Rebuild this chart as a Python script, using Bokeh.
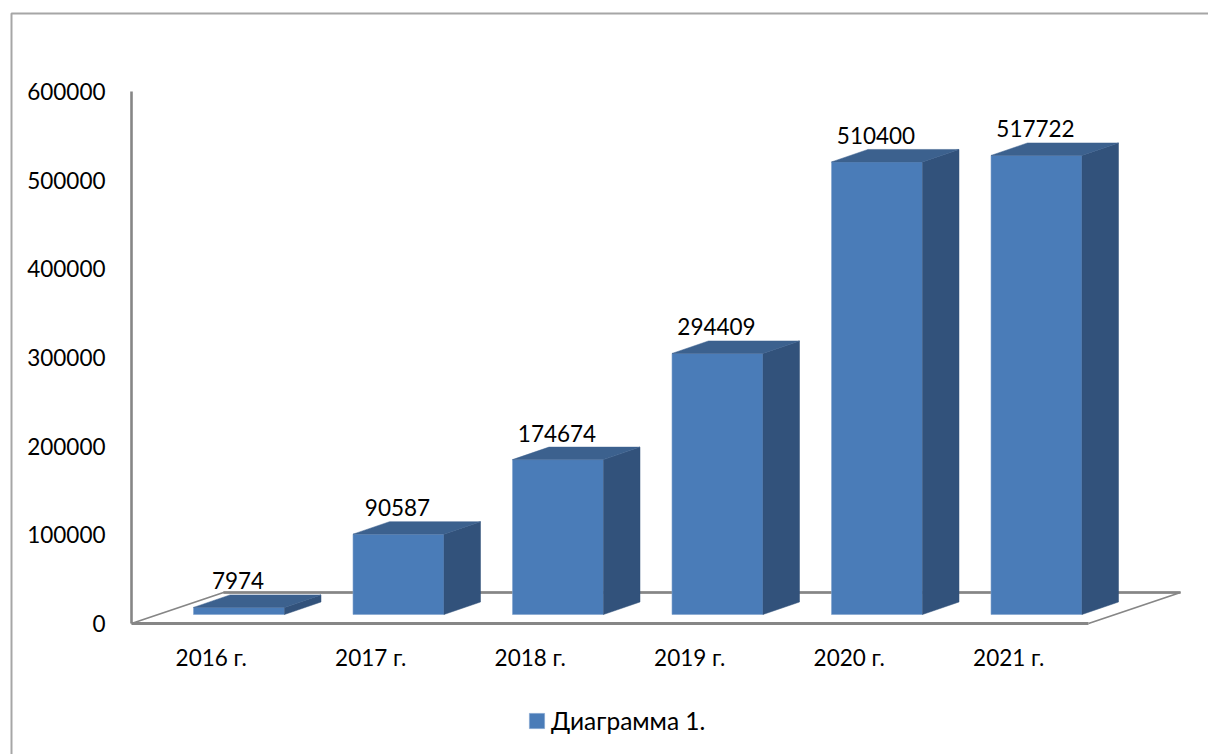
from bokeh.embed import file_html
from bokeh.models import FixedTicker, Legend, LegendItem, LinearAxis, Range1d
from bokeh.plotting import figure
from bokeh.resources import INLINE
from bokeh.core.properties import value

categories = ["2016 г.", "2017 г.", "2018 г.", "2019 г.", "2020 г.", "2021 г."]
values = [7974, 90587, 174674, 294409, 510400, 517722]
y_ticks = [0, 100000, 200000, 300000, 400000, 500000, 600000]
series_name = "Диаграмма 1."

WIDTH, HEIGHT = 1208, 754
FONT = "Lato"
FONT_SIZE = "22.5px"
LEGEND_FONT_SIZE = "24.5px"
AXIS_COLOR = "#868686"
FRAME_COLOR = "#a6a6a6"
FRONT, SIDE, TOP = "#4a7cb8", "#32527b", "#3c618e"

# Pixel geometry of the 3D plot box
X0, X6 = 131, 1088
Y0, Y600 = 623, 91
PX_X = (X6 - X0) / len(categories)
PX_Y = (Y0 - Y600) / 600000

def dx(px):
    return px / PX_X

def dy(px):
    return px / PX_Y

def sx(px):
    return (px - X0) / PX_X

def sy(px):
    return (Y0 - px) / PX_Y

p = figure(
    width=WIDTH, height=HEIGHT, output_backend="svg", toolbar_location=None,
    x_range=Range1d(sx(0), sx(WIDTH)), y_range=Range1d(sy(HEIGHT), sy(0)),
    min_border=0, x_axis_type=None, y_axis_type=None,
    outline_line_color=None, background_fill_color="white",
)
p.grid.visible = False

# Outer chart border: only the top and left edges fall inside the page
p.line([sx(WIDTH), sx(11), sx(11)], [sy(13), sy(13), sy(HEIGHT)],
       line_color=FRAME_COLOR, line_width=2)

# Floor of the 3D box
floor_dx, floor_dy = dx(92), dy(31)
p.line([0, floor_dx, len(categories) + floor_dx, len(categories)],
       [0, floor_dy, floor_dy, 0], line_color=AXIS_COLOR, line_width=1.8)
p.line([floor_dx, len(categories) + floor_dx], [floor_dy, floor_dy],
       line_color=AXIS_COLOR, line_width=2.6)

# Bars: front, side and top faces derived from the values
base = dy(9)
half = dx(45.5)
shift = dx(27.75)
depth_x, depth_y = dx(36.5), dy(12.5)

front_xs, front_ys, side_xs, side_ys, top_xs, top_ys = [], [], [], [], [], []
label_x, label_y = [], []
for i, v in enumerate(values):
    c = i + 0.5 + shift
    l, r, b, t = c - half, c + half, base, base + v
    front_xs.append([l, r, r, l])
    front_ys.append([b, b, t, t])
    side_xs.append([r, r + depth_x, r + depth_x, r])
    side_ys.append([b, b + depth_y, t + depth_y, t])
    top_xs.append([l, r, r + depth_x, l + depth_x])
    top_ys.append([t, t, t + depth_y, t + depth_y])
    label_x.append(c)
    label_y.append(t + depth_y)

front = p.patches(front_xs, front_ys, fill_color=FRONT, line_color="#7fa3cf", line_width=0.6)
p.patches(side_xs, side_ys, fill_color=SIDE, line_color=SIDE, line_width=0.5)
p.patches(top_xs, top_ys, fill_color=TOP, line_color=TOP, line_width=0.5)

p.text(label_x, label_y, text=[str(v) for v in values], text_align="center",
       text_baseline="alphabetic", x_offset=-1, y_offset=-14, text_font=value(FONT),
       text_font_size=FONT_SIZE, text_color="black")

# Axes pinned to the front edge of the floor
y_axis = LinearAxis(fixed_location=0, bounds=(0, 600000),
                    ticker=FixedTicker(ticks=y_ticks))
y_axis.axis_line_color = AXIS_COLOR
y_axis.axis_line_width = 2.6
y_axis.major_tick_line_color = None
y_axis.minor_tick_line_color = None
y_axis.major_label_standoff = 20
y_axis.major_label_text_font = FONT
y_axis.major_label_text_font_size = FONT_SIZE
y_axis.major_label_text_color = "black"
y_axis.formatter.use_scientific = False
p.add_layout(y_axis, "left")

x_axis = LinearAxis(fixed_location=0, bounds=(0, len(categories)),
                    ticker=FixedTicker(ticks=[i + 0.5 for i in range(len(categories))]))
x_axis.major_label_overrides = {i + 0.5: c for i, c in enumerate(categories)}
x_axis.axis_line_color = AXIS_COLOR
x_axis.axis_line_width = 3
x_axis.major_tick_line_color = None
x_axis.minor_tick_line_color = None
x_axis.major_label_standoff = 14
x_axis.major_label_text_font = FONT
x_axis.major_label_text_font_size = FONT_SIZE
x_axis.major_label_text_color = "black"
p.add_layout(x_axis, "below")

legend = Legend(
    items=[LegendItem(label=series_name, renderers=[front], index=0)],
    location=(527, 19), border_line_color=None, background_fill_alpha=0,
    glyph_width=19, glyph_height=19, label_standoff=5,
    label_text_font=FONT, label_text_font_size=LEGEND_FONT_SIZE, label_text_color="black",
    padding=10, margin=0,
)
p.add_layout(legend, "center")

open("out.html", "w").write(file_html(p, INLINE))
